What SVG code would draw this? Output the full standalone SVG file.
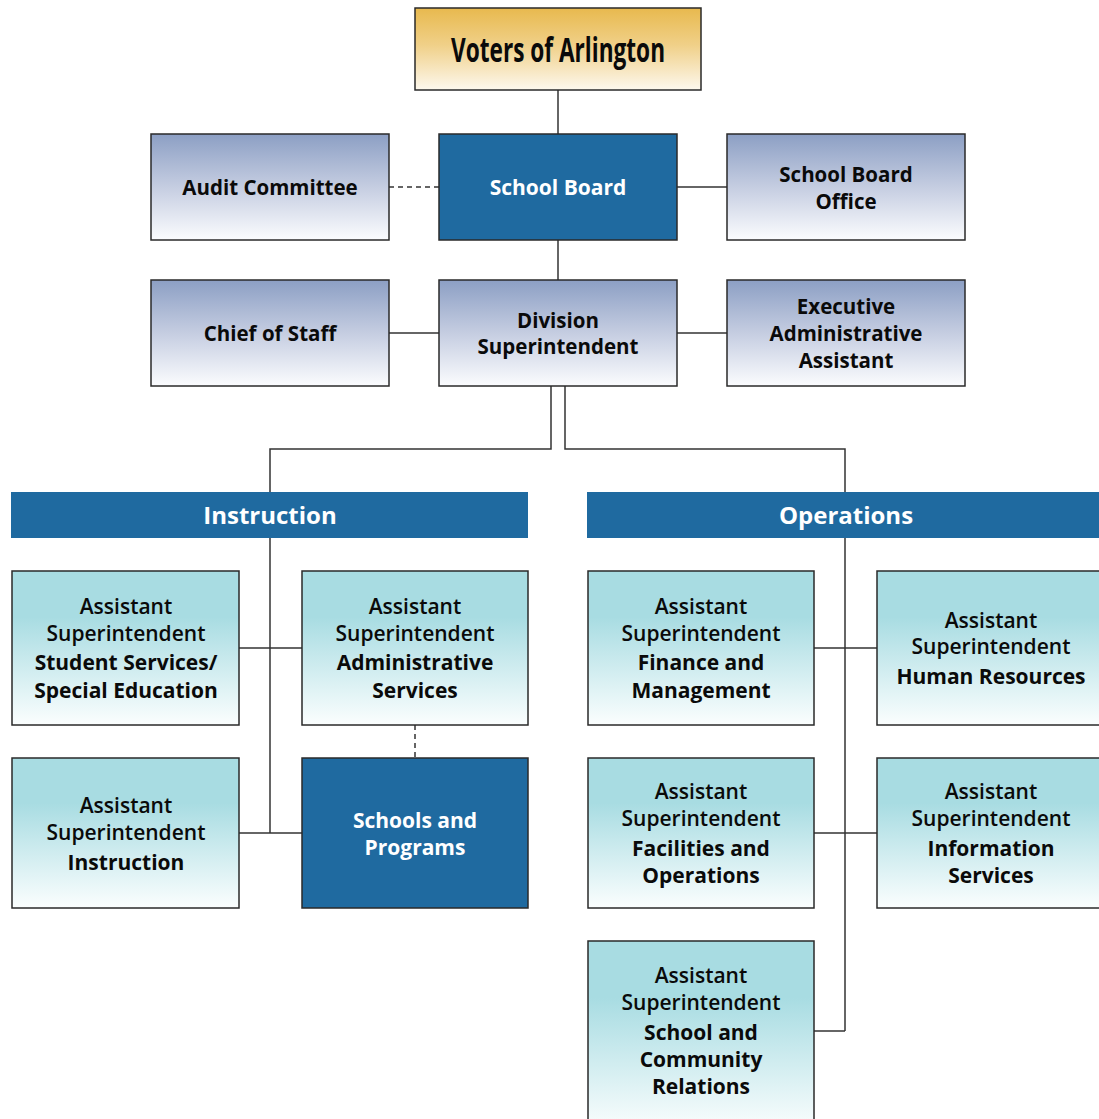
<svg xmlns="http://www.w3.org/2000/svg" width="1099" height="1119" viewBox="0 0 1099 1119">
<defs>
<linearGradient id="gGold" x1="0" y1="0" x2="0" y2="1">
<stop offset="0" stop-color="#e8b94e"/><stop offset="0.45" stop-color="#f0d088"/><stop offset="1" stop-color="#fdf8ee"/>
</linearGradient>
<linearGradient id="gSlate" x1="0" y1="0" x2="0" y2="1">
<stop offset="0" stop-color="#8c9fc4"/><stop offset="0.5" stop-color="#c5cde1"/><stop offset="1" stop-color="#fbfcfe"/>
</linearGradient>
<linearGradient id="gTeal" x1="0" y1="0" x2="0" y2="1">
<stop offset="0" stop-color="#a8dce2"/><stop offset="0.3" stop-color="#a8dce2"/><stop offset="1" stop-color="#fbfefe"/>
</linearGradient>
<style>
.box{stroke:#2a2a2a;stroke-width:1.5}
.slate{fill:url(#gSlate)}
.teal{fill:url(#gTeal)}
.blue{fill:#1f6aa0}
.bar{fill:#1f6aa0}
text{font-family:"Open Sans","Liberation Sans",sans-serif;text-anchor:middle;fill:#0a0a0a}
.t{font-size:20.5px;font-weight:700}
.a{font-size:21px;font-weight:600}
.b{font-size:21px;font-weight:700}
.w{fill:#fff;font-weight:700;font-size:21px}
.hd{fill:#fff;font-weight:700;font-size:24px}
.ln{stroke:#333;stroke-width:1.5;fill:none}
.dash{stroke:#333;stroke-width:1.5;fill:none;stroke-dasharray:5 4}
</style>
</defs>
<rect width="1099" height="1119" fill="#fff"/>
<g id="connectors">
<line class="ln" x1="558" y1="90" x2="558" y2="134"/>
<line class="dash" x1="389" y1="187" x2="439" y2="187"/>
<line class="ln" x1="677" y1="187" x2="727" y2="187"/>
<line class="ln" x1="558" y1="240" x2="558" y2="280"/>
<line class="ln" x1="389" y1="333" x2="439" y2="333"/>
<line class="ln" x1="677" y1="333" x2="727" y2="333"/>
<polyline class="ln" points="551,386 551,449 270,449 270,492"/>
<polyline class="ln" points="565,386 565,449 845,449 845,492"/>
<line class="ln" x1="270" y1="538" x2="270" y2="833"/>
<line class="ln" x1="239" y1="648" x2="302" y2="648"/>
<line class="ln" x1="239" y1="833" x2="302" y2="833"/>
<line class="dash" x1="415" y1="725" x2="415" y2="758"/>
<line class="ln" x1="845" y1="538" x2="845" y2="1031"/>
<line class="ln" x1="814" y1="648" x2="877" y2="648"/>
<line class="ln" x1="814" y1="833" x2="877" y2="833"/>
<line class="ln" x1="814" y1="1031" x2="845" y2="1031"/>
</g>
<g id="voters">
<rect class="box" x="415" y="8" width="286" height="82" fill="url(#gGold)"/>
<text x="558" y="62" font-size="34" font-weight="700" textLength="214" lengthAdjust="spacingAndGlyphs">Voters of Arlington</text>
</g>
<g id="school-board">
<rect class="box blue" x="439" y="134" width="238" height="106"/>
<text class="w" x="558" y="195">School Board</text>
</g>
<g id="audit-committee">
<rect class="box slate" x="151" y="134" width="238" height="106"/>
<text class="t" x="270" y="195">Audit Committee</text>
</g>
<g id="school-board-office">
<rect class="box slate" x="727" y="134" width="238" height="106"/>
<text class="t" x="846" y="182">School Board</text>
<text class="t" x="846" y="209">Office</text>
</g>
<g id="chief-of-staff">
<rect class="box slate" x="151" y="280" width="238" height="106"/>
<text class="t" x="270" y="341">Chief of Staff</text>
</g>
<g id="division-superintendent">
<rect class="box slate" x="439" y="280" width="238" height="106"/>
<text class="t" x="558" y="328">Division</text>
<text class="t" x="558" y="354">Superintendent</text>
</g>
<g id="executive-assistant">
<rect class="box slate" x="727" y="280" width="238" height="106"/>
<text class="t" x="846" y="314">Executive</text>
<text class="t" x="846" y="341">Administrative</text>
<text class="t" x="846" y="368">Assistant</text>
</g>
<g id="instruction">
<rect class="bar" x="11" y="492" width="517" height="46"/>
<text class="hd" x="270" y="524">Instruction</text>
</g>
<g id="operations">
<rect class="bar" x="587" y="492" width="513" height="46"/>
<text class="hd" x="846" y="524">Operations</text>
</g>
<g id="student-services">
<rect class="box teal" x="12" y="571" width="227" height="154"/>
<text class="a" x="126" y="614">Assistant</text>
<text class="a" x="126" y="641">Superintendent</text>
<text class="b" x="126" y="670">Student Services/</text>
<text class="b" x="126" y="698">Special Education</text>
</g>
<g id="administrative-services">
<rect class="box teal" x="302" y="571" width="226" height="154"/>
<text class="a" x="415" y="614">Assistant</text>
<text class="a" x="415" y="641">Superintendent</text>
<text class="b" x="415" y="670">Administrative</text>
<text class="b" x="415" y="698">Services</text>
</g>
<g id="as-instruction">
<rect class="box teal" x="12" y="758" width="227" height="150"/>
<text class="a" x="126" y="813">Assistant</text>
<text class="a" x="126" y="840">Superintendent</text>
<text class="b" x="126" y="870">Instruction</text>
</g>
<g id="schools-programs">
<rect class="box blue" x="302" y="758" width="226" height="150"/>
<text class="w" x="415" y="828">Schools and</text>
<text class="w" x="415" y="855">Programs</text>
</g>
<g id="finance">
<rect class="box teal" x="588" y="571" width="226" height="154"/>
<text class="a" x="701" y="614">Assistant</text>
<text class="a" x="701" y="641">Superintendent</text>
<text class="b" x="701" y="670">Finance and</text>
<text class="b" x="701" y="698">Management</text>
</g>
<g id="human-resources">
<rect class="box teal" x="877" y="571" width="230" height="154"/>
<text class="a" x="991" y="628">Assistant</text>
<text class="a" x="991" y="654">Superintendent</text>
<text class="b" x="991" y="684">Human Resources</text>
</g>
<g id="facilities">
<rect class="box teal" x="588" y="758" width="226" height="150"/>
<text class="a" x="701" y="799">Assistant</text>
<text class="a" x="701" y="826">Superintendent</text>
<text class="b" x="701" y="856">Facilities and</text>
<text class="b" x="701" y="883">Operations</text>
</g>
<g id="information-services">
<rect class="box teal" x="877" y="758" width="230" height="150"/>
<text class="a" x="991" y="799">Assistant</text>
<text class="a" x="991" y="826">Superintendent</text>
<text class="b" x="991" y="856">Information</text>
<text class="b" x="991" y="883">Services</text>
</g>
<g id="community-relations">
<rect class="box teal" x="588" y="941" width="226" height="190"/>
<text class="a" x="701" y="983">Assistant</text>
<text class="a" x="701" y="1010">Superintendent</text>
<text class="b" x="701" y="1040">School and</text>
<text class="b" x="701" y="1067">Community</text>
<text class="b" x="701" y="1094">Relations</text>
</g>
</svg>
